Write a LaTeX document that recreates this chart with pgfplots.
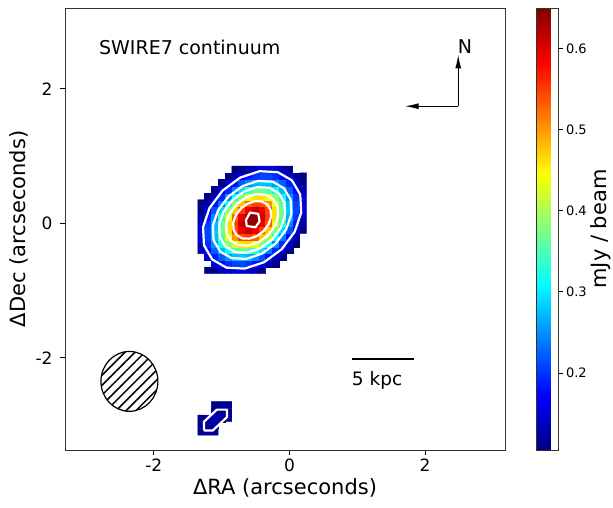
\documentclass[border=0pt]{standalone}
\usepackage{fontspec}
\setmainfont{DejaVu Sans}
\usepackage{pgfplots}
\pgfplotsset{compat=1.18}
\usetikzlibrary{patterns.meta,arrows.meta}
\begin{document}
\begin{tikzpicture}
\begin{axis}[
  width=440pt, height=442pt, scale only axis,
  xmin=-3.31, xmax=3.18, ymin=-3.37, ymax=3.20,
  enlargelimits=false,
  xtick={-2,0,2}, ytick={-2,0,2},
  xticklabels={-2,0,2}, yticklabels={-2,0,2},
  tick pos=left, tick align=outside,
  major tick length=5pt,
  tick style={black, line width=0.8pt},
  axis line style={line width=0.8pt, black!80},
  xticklabel style={font=\fontsize{17}{20}\selectfont},
  yticklabel style={font=\fontsize{17}{20}\selectfont, xshift=-4pt},
  xlabel style={font=\fontsize{21}{25}\selectfont},
  ylabel style={font=\fontsize{21}{25}\selectfont},
  xlabel={ΔRA (arcseconds)},
  ylabel={ΔDec (arcseconds)},
  colormap/jet,
  point meta min=0.105, point meta max=0.65,
  colorbar,
  colorbar style={
    width=22pt,
    at={(parent axis.north east)}, anchor=north west, xshift=23pt,
    ytick={0.2,0.3,0.4,0.5,0.6},
    yticklabels={0.2,0.3,0.4,0.5,0.6},
    ytick pos=right,
    yticklabel style={font=\fontsize{13}{15}\selectfont},
    tick align=outside, major tick length=4pt,
    tick style={black, line width=0.8pt},
    axis line style={line width=0.8pt, black!80},
    ylabel={mJy / beam},
    ylabel style={font=\fontsize{21}{25}\selectfont, yshift=3pt},
  },
]
\addplot[matrix plot*, mesh/cols=16, point meta=explicit, unbounded coords=jump] table[meta=z] {
x y z
-1.30 -0.70 nan
-1.20 -0.70 0.105
-1.10 -0.70 0.113
-1.00 -0.70 0.132
-0.90 -0.70 0.145
-0.80 -0.70 0.150
-0.70 -0.70 0.149
-0.60 -0.70 0.141
-0.50 -0.70 0.125
-0.40 -0.70 0.108
-0.30 -0.70 nan
-0.20 -0.70 nan
-0.10 -0.70 nan
0.00 -0.70 nan
0.10 -0.70 nan
0.20 -0.70 nan
-1.30 -0.60 nan
-1.20 -0.60 nan
-1.10 -0.60 0.150
-1.00 -0.60 0.177
-0.90 -0.60 0.197
-0.80 -0.60 0.208
-0.70 -0.60 0.210
-0.60 -0.60 0.201
-0.50 -0.60 0.182
-0.40 -0.60 0.156
-0.30 -0.60 0.128
-0.20 -0.60 0.105
-0.10 -0.60 nan
0.00 -0.60 nan
0.10 -0.60 nan
0.20 -0.60 nan
-1.30 -0.50 nan
-1.20 -0.50 0.150
-1.10 -0.50 0.189
-1.00 -0.50 0.224
-0.90 -0.50 0.251
-0.80 -0.50 0.274
-0.70 -0.50 0.280
-0.60 -0.50 0.270
-0.50 -0.50 0.246
-0.40 -0.50 0.217
-0.30 -0.50 0.181
-0.20 -0.50 0.143
-0.10 -0.50 0.108
0.00 -0.50 nan
0.10 -0.50 nan
0.20 -0.50 nan
-1.30 -0.40 0.132
-1.20 -0.40 0.177
-1.10 -0.40 0.224
-1.00 -0.40 0.272
-0.90 -0.40 0.319
-0.80 -0.40 0.354
-0.70 -0.40 0.370
-0.60 -0.40 0.362
-0.50 -0.40 0.333
-0.40 -0.40 0.291
-0.30 -0.40 0.240
-0.20 -0.40 0.195
-0.10 -0.40 0.148
0.00 -0.40 0.108
0.10 -0.40 nan
0.20 -0.40 nan
-1.30 -0.30 0.145
-1.20 -0.30 0.197
-1.10 -0.30 0.251
-1.00 -0.30 0.319
-0.90 -0.30 0.384
-0.80 -0.30 0.435
-0.70 -0.30 0.462
-0.60 -0.30 0.462
-0.50 -0.30 0.433
-0.40 -0.30 0.381
-0.30 -0.30 0.316
-0.20 -0.30 0.249
-0.10 -0.30 0.195
0.00 -0.30 0.143
0.10 -0.30 0.105
0.20 -0.30 nan
-1.30 -0.20 0.150
-1.20 -0.20 0.208
-1.10 -0.20 0.274
-1.00 -0.20 0.354
-0.90 -0.20 0.435
-0.80 -0.20 0.503
-0.70 -0.20 0.542
-0.60 -0.20 0.549
-0.50 -0.20 0.531
-0.40 -0.20 0.474
-0.30 -0.20 0.399
-0.20 -0.20 0.316
-0.10 -0.20 0.240
0.00 -0.20 0.181
0.10 -0.20 0.128
0.20 -0.20 nan
-1.30 -0.10 0.149
-1.20 -0.10 0.210
-1.10 -0.10 0.280
-1.00 -0.10 0.370
-0.90 -0.10 0.462
-0.80 -0.10 0.542
-0.70 -0.10 0.589
-0.60 -0.10 0.611
-0.50 -0.10 0.593
-0.40 -0.10 0.549
-0.30 -0.10 0.474
-0.20 -0.10 0.381
-0.10 -0.10 0.291
0.00 -0.10 0.217
0.10 -0.10 0.156
0.20 -0.10 0.108
-1.30 0.00 0.141
-1.20 0.00 0.201
-1.10 0.00 0.270
-1.00 0.00 0.362
-0.90 0.00 0.462
-0.80 0.00 0.549
-0.70 0.00 0.611
-0.60 0.00 0.645
-0.50 0.00 0.640
-0.40 0.00 0.593
-0.30 0.00 0.531
-0.20 0.00 0.433
-0.10 0.00 0.333
0.00 0.00 0.246
0.10 0.00 0.182
0.20 0.00 0.125
-1.30 0.10 0.125
-1.20 0.10 0.182
-1.10 0.10 0.246
-1.00 0.10 0.333
-0.90 0.10 0.433
-0.80 0.10 0.531
-0.70 0.10 0.593
-0.60 0.10 0.640
-0.50 0.10 0.645
-0.40 0.10 0.611
-0.30 0.10 0.549
-0.20 0.10 0.462
-0.10 0.10 0.362
0.00 0.10 0.270
0.10 0.10 0.201
0.20 0.10 0.141
-1.30 0.20 0.108
-1.20 0.20 0.156
-1.10 0.20 0.217
-1.00 0.20 0.291
-0.90 0.20 0.381
-0.80 0.20 0.474
-0.70 0.20 0.549
-0.60 0.20 0.593
-0.50 0.20 0.611
-0.40 0.20 0.589
-0.30 0.20 0.542
-0.20 0.20 0.462
-0.10 0.20 0.370
0.00 0.20 0.280
0.10 0.20 0.210
0.20 0.20 0.149
-1.30 0.30 0.105
-1.20 0.30 0.128
-1.10 0.30 0.181
-1.00 0.30 0.240
-0.90 0.30 0.316
-0.80 0.30 0.399
-0.70 0.30 0.474
-0.60 0.30 0.531
-0.50 0.30 0.549
-0.40 0.30 0.542
-0.30 0.30 0.503
-0.20 0.30 0.435
-0.10 0.30 0.354
0.00 0.30 0.274
0.10 0.30 0.208
0.20 0.30 0.150
-1.30 0.40 nan
-1.20 0.40 0.105
-1.10 0.40 0.143
-1.00 0.40 0.195
-0.90 0.40 0.249
-0.80 0.40 0.316
-0.70 0.40 0.381
-0.60 0.40 0.433
-0.50 0.40 0.462
-0.40 0.40 0.462
-0.30 0.40 0.435
-0.20 0.40 0.384
-0.10 0.40 0.319
0.00 0.40 0.251
0.10 0.40 0.197
0.20 0.40 0.145
-1.30 0.50 nan
-1.20 0.50 nan
-1.10 0.50 0.108
-1.00 0.50 0.148
-0.90 0.50 0.195
-0.80 0.50 0.240
-0.70 0.50 0.291
-0.60 0.50 0.333
-0.50 0.50 0.362
-0.40 0.50 0.370
-0.30 0.50 0.354
-0.20 0.50 0.319
-0.10 0.50 0.272
0.00 0.50 0.224
0.10 0.50 0.177
0.20 0.50 0.132
-1.30 0.60 nan
-1.20 0.60 nan
-1.10 0.60 nan
-1.00 0.60 0.108
-0.90 0.60 0.143
-0.80 0.60 0.181
-0.70 0.60 0.217
-0.60 0.60 0.246
-0.50 0.60 0.270
-0.40 0.60 0.280
-0.30 0.60 0.274
-0.20 0.60 0.251
-0.10 0.60 0.224
0.00 0.60 0.189
0.10 0.60 0.150
0.20 0.60 0.113
-1.30 0.70 nan
-1.20 0.70 nan
-1.10 0.70 nan
-1.00 0.70 nan
-0.90 0.70 0.105
-0.80 0.70 0.128
-0.70 0.70 0.156
-0.60 0.70 0.182
-0.50 0.70 0.201
-0.40 0.70 0.210
-0.30 0.70 0.208
-0.20 0.70 0.197
-0.10 0.70 0.177
0.00 0.70 0.150
0.10 0.70 0.121
0.20 0.70 0.105
-1.30 0.80 nan
-1.20 0.80 nan
-1.10 0.80 nan
-1.00 0.80 nan
-0.90 0.80 nan
-0.80 0.80 0.105
-0.70 0.80 0.108
-0.60 0.80 0.125
-0.50 0.80 0.141
-0.40 0.80 0.149
-0.30 0.80 0.150
-0.20 0.80 0.145
-0.10 0.80 0.132
0.00 0.80 0.113
0.10 0.80 nan
0.20 0.80 nan
};
\addplot[matrix plot*, mesh/cols=5, point meta=explicit, unbounded coords=jump] table[meta=z] {
x y z
-1.30 -3.10 0.110
-1.20 -3.10 0.115
-1.10 -3.10 0.110
-1.00 -3.10 nan
-0.90 -3.10 nan
-1.30 -3.00 0.115
-1.20 -3.00 0.125
-1.10 -3.00 0.118
-1.00 -3.00 nan
-0.90 -3.00 nan
-1.30 -2.90 0.108
-1.20 -2.90 0.118
-1.10 -2.90 0.135
-1.00 -2.90 0.115
-0.90 -2.90 0.108
-1.30 -2.80 nan
-1.20 -2.80 nan
-1.10 -2.80 0.118
-1.00 -2.80 0.125
-0.90 -2.80 0.115
-1.30 -2.70 nan
-1.20 -2.70 nan
-1.10 -2.70 0.108
-1.00 -2.70 0.115
-0.90 -2.70 0.110
};
% contours
\addplot[white, line width=2.2pt, line join=round] coordinates {(0.038,0.638) (-0.173,0.760) (-0.442,0.774) (-0.727,0.678) (-0.986,0.486) (-1.178,0.227) (-1.274,-0.058) (-1.260,-0.327) (-1.138,-0.538) (-0.927,-0.660) (-0.658,-0.674) (-0.373,-0.578) (-0.114,-0.386) (0.078,-0.127) (0.174,0.158) (0.160,0.427) (0.038,0.638)};
\addplot[white, line width=2.2pt, line join=round] coordinates {(-0.080,0.520) (-0.248,0.618) (-0.464,0.629) (-0.692,0.552) (-0.899,0.399) (-1.052,0.192) (-1.129,-0.036) (-1.118,-0.252) (-1.020,-0.420) (-0.852,-0.518) (-0.636,-0.529) (-0.408,-0.452) (-0.201,-0.299) (-0.048,-0.092) (0.029,0.136) (0.018,0.352) (-0.080,0.520)};
\addplot[white, line width=2.2pt, line join=round] coordinates {(-0.155,0.445) (-0.297,0.527) (-0.477,0.537) (-0.669,0.472) (-0.843,0.343) (-0.972,0.169) (-1.037,-0.023) (-1.027,-0.203) (-0.945,-0.345) (-0.803,-0.427) (-0.623,-0.437) (-0.431,-0.372) (-0.257,-0.243) (-0.128,-0.069) (-0.063,0.123) (-0.073,0.303) (-0.155,0.445)};
\addplot[white, line width=2.2pt, line join=round] coordinates {(-0.239,0.361) (-0.351,0.426) (-0.493,0.433) (-0.644,0.382) (-0.781,0.281) (-0.882,0.144) (-0.933,-0.007) (-0.926,-0.149) (-0.861,-0.261) (-0.749,-0.326) (-0.607,-0.333) (-0.456,-0.282) (-0.319,-0.181) (-0.218,-0.044) (-0.167,0.107) (-0.174,0.249) (-0.239,0.361)};
\addplot[white, line width=2.2pt, line join=round] coordinates {(-0.323,0.277) (-0.404,0.324) (-0.508,0.329) (-0.618,0.292) (-0.718,0.218) (-0.792,0.118) (-0.829,0.008) (-0.824,-0.096) (-0.777,-0.177) (-0.696,-0.224) (-0.592,-0.229) (-0.482,-0.192) (-0.382,-0.118) (-0.308,-0.018) (-0.271,0.092) (-0.276,0.196) (-0.323,0.277)};
\addplot[white, line width=2.2pt, line join=round] coordinates {(-0.64,0.05) (-0.58,0.16) (-0.46,0.14) (-0.44,0.03) (-0.50,-0.06) (-0.63,-0.04) (-0.64,0.05)};
\addplot[white, line width=2.2pt, line join=round] coordinates {(-1.26,-3.08) (-1.26,-2.95) (-1.07,-2.77) (-0.92,-2.77) (-0.92,-2.88) (-1.13,-3.08) (-1.26,-3.08)};
% beam
\draw[line width=1.2pt, black, pattern={Lines[angle=45,distance=7pt,line width=1.5pt]}, pattern color=black]
  (axis cs:-2.36,-2.35) ellipse [x radius=0.42, y radius=0.445];
% compass
\draw[line width=1.3pt, -{Latex[length=14pt,width=6pt]}] (axis cs:2.49,1.74) -- (axis cs:2.49,2.51);
\draw[line width=1.3pt, -{Latex[length=14pt,width=6pt]}] (axis cs:2.49,1.74) -- (axis cs:1.70,1.74);
\node[font=\fontsize{19}{22}\selectfont] at (axis cs:2.59,2.62) {N};
% scale bar
\draw[line width=1.5pt] (axis cs:0.92,-2.02) -- (axis cs:1.84,-2.02);
\node[anchor=west, inner sep=0pt, font=\fontsize{18.5}{22}\selectfont] at (axis cs:0.92,-2.33) {5 kpc};
\node[anchor=west, inner sep=0pt, font=\fontsize{19}{22}\selectfont] at (axis cs:-2.81,2.62) {SWIRE7 continuum};
\end{axis}
\pgfresetboundingbox
\path[use as bounding box] (current axis.south west) ++(-65pt,-57pt) rectangle ([shift={(108pt,8pt)}]current axis.north east);
\end{tikzpicture}
\end{document}
